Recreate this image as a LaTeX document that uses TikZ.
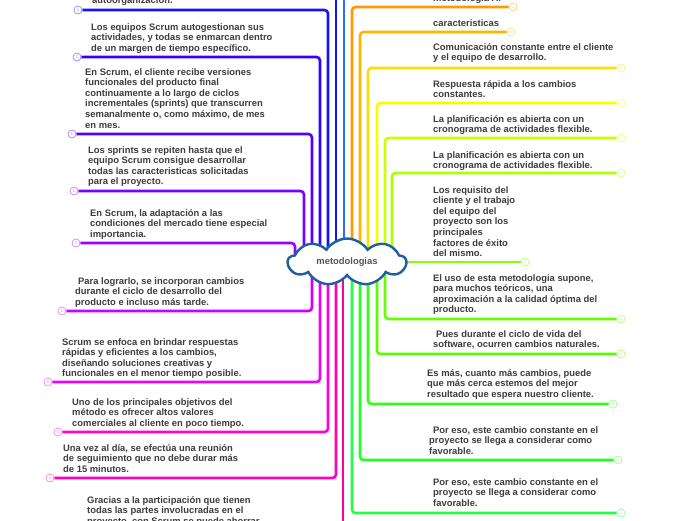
\documentclass[tikz,border=0pt]{standalone}
\usepackage{fontspec}
\setmainfont{Liberation Sans}
\usetikzlibrary{shapes.symbols,backgrounds}
\definecolor{txtgray} {HTML}{3C3C3C}
\definecolor{hubblue} {HTML}{1F5FA0}
\definecolor{hubtext} {HTML}{555555}
\definecolor{cTa}{HTML}{0A14FF}
\definecolor{cTb}{HTML}{2A6AFF}
\definecolor{cLa}{HTML}{1515F0}
\definecolor{cLb}{HTML}{3300FF}
\definecolor{cLc}{HTML}{5500FF}
\definecolor{cLd}{HTML}{7A00FF}
\definecolor{cLe}{HTML}{9900FF}
\definecolor{cLf}{HTML}{CC00FF}
\definecolor{cLg}{HTML}{EE00FF}
\definecolor{cLh}{HTML}{FF00DD}
\definecolor{cLi}{HTML}{FF00BB}
\definecolor{cLj}{HTML}{FF0099}
\definecolor{cRa}{HTML}{FF9900}
\definecolor{cRb}{HTML}{FFB300}
\definecolor{cRc}{HTML}{FFDD00}
\definecolor{cRd}{HTML}{F5FF00}
\definecolor{cRe}{HTML}{CCFF00}
\definecolor{cRf}{HTML}{AAFF00}
\definecolor{cRg}{HTML}{88FF00}
\definecolor{cRh}{HTML}{66FF00}
\definecolor{cRi}{HTML}{55FF00}
\definecolor{cRj}{HTML}{33FF11}
\definecolor{cRk}{HTML}{22FF22}
\definecolor{cRl}{HTML}{22FF44}

\begin{document}
\begin{tikzpicture}[x=1pt, y=-1pt,
  every node/.style={font=\fontsize{9.4}{10.6}\selectfont\bfseries},
  txt/.style={anchor=north west, align=left, inner sep=0pt, text=txtgray},
  num/.style={circle, draw=#1!45, fill=white, text=#1!55, line width=0.8pt,
              inner sep=0pt, minimum size=8pt, font=\fontsize{4}{4}\selectfont},
  br/.style={line width=2.6pt, rounded corners=3.5pt, draw=#1},
  hub/.style={cloud, cloud puffs=9, cloud puff arc=115, cloud ignores aspect,
              minimum width=118pt, minimum height=47pt, draw=hubblue,
              line width=2.4pt, fill=white, text=hubtext, inner sep=0pt},
]
\useasboundingbox (0,0) rectangle (696,520);
\clip (0,0) rectangle (696,520);

\node[hub] (hub) at (347,262) {metodologias};

\node[num=cLa] (l0) at (78,10)  {1};
\node[num=cLb] (l1) at (77,57)  {1};
\node[num=cLc] (l2) at (72,134) {1};
\node[num=cLd] (l3) at (74,191) {1};
\node[num=cLe] (l4) at (76,243) {1};
\node[num=cLf] (l5) at (62,311) {1};
\node[num=cLg] (l6) at (48,382) {6};
\node[num=cLh] (l7) at (58,432) {5};
\node[num=cLi] (l8) at (50,478) {1};

\node[num=cRa] (r0)  at (513,7)   {1};
\node[num=cRb] (r1)  at (511,32)  {4};
\node[num=cRc] (r2)  at (621,68)  {5};
\node[num=cRd] (r3)  at (621,103) {3};
\node[num=cRe] (r4)  at (621,138) {1};
\node[num=cRf] (r5)  at (621,173) {1};
\node[num=cRg] (r6)  at (525,262) {1};
\node[num=cRh] (r7)  at (621,319) {4};
\node[num=cRi] (r8)  at (621,354) {4};
\node[num=cRj] (r9)  at (613,404) {4};
\node[num=cRk] (r10) at (618,460) {1};
\node[num=cRl] (r11) at (621,513) {1};

\coordinate (offa) at (336,-20);
\coordinate (offb) at (344,-20);
\coordinate (offc) at (343,540);

\begin{scope}[on background layer]
\draw[br=cTa] (offa) -- (offa |- hub.center);
\draw[br=cTb] (offb) -- (offb |- hub.center);
\draw[br=cLj] (offc) -- (offc |- hub.center);
\draw[br=cLa] (l0) -| ([xshift=-19]hub.center);
\draw[br=cLb] (l1) -| ([xshift=-27]hub.center);
\draw[br=cLc] (l2) -| ([xshift=-35]hub.center);
\draw[br=cLd] (l3) -| ([xshift=-43]hub.center);
\draw[br=cLe] (l4) -| ([xshift=-52]hub.center);
\draw[br=cLf] (l5) -| ([xshift=-35]hub.center);
\draw[br=cLg] (l6) -| ([xshift=-27]hub.center);
\draw[br=cLh] (l7) -| ([xshift=-19]hub.center);
\draw[br=cLi] (l8) -| ([xshift=-11]hub.center);
\draw[br=cRa] (r0) -| ([xshift=5]hub.center);
\draw[br=cRb] (r1) -| ([xshift=13]hub.center);
\draw[br=cRc] (r2) -| ([xshift=21]hub.center);
\draw[br=cRd] (r3) -| ([xshift=30]hub.center);
\draw[br=cRe] (r4) -| ([xshift=38]hub.center);
\draw[br=cRf] (r5) -| ([xshift=45]hub.center);
\draw[br=cRg] (r6) -- (hub.center);
\draw[br=cRh] (r7) -| ([xshift=38]hub.center);
\draw[br=cRi] (r8) -| ([xshift=30]hub.center);
\draw[br=cRj] (r9) -| ([xshift=21]hub.center);
\draw[br=cRk] (r10) -| ([xshift=13]hub.center);
\draw[br=cRl] (r11) -| ([xshift=5]hub.center);
\end{scope}

\node[txt] (t0) at (92,-4) {autoorganización.};
\node[txt] (t1) at (91,23) {Los equipos Scrum autogestionan sus\\actividades, y todas se enmarcan dentro\\de un margen de tiempo específico.};
\node[txt] (t2) at (85,68) {En Scrum, el cliente recibe versiones\\funcionales del producto final\\continuamente a lo largo de ciclos\\incrementales (sprints) que transcurren\\semanalmente o, como máximo, de mes\\en mes.};
\node[txt] (t3) at (88,146) {Los sprints se repiten hasta que el\\equipo Scrum consigue desarrollar\\todas las caracteristicas solicitadas\\para el proyecto.};
\node[txt] (t4) at (90,209) {En Scrum, la adaptación a las\\condiciones del mercado tiene especial\\importancia.};
\node[txt] (t5) at (75,277) {\hspace*{3pt}Para lograrlo, se incorporan cambios\\durante el ciclo de desarrollo del\\producto e incluso más tarde.};
\node[txt] (t6) at (62,338) {Scrum se enfoca en brindar respuestas\\rápidas y eficientes a los cambios,\\diseñando soluciones creativas y\\funcionales en el menor tiempo posible.};
\node[txt] (t7) at (72,398) {Uno de los principales objetivos del\\método es ofrecer altos valores\\comerciales al cliente en poco tiempo.};
\node[txt] (t8) at (63,444) {Una vez al día, se efectúa una reunión\\de seguimiento que no debe durar más\\de 15 minutos.};
\node[txt] (t9) at (87,496) {Gracias a la participación que tienen\\todas las partes involucradas en el\\proyecto, con Scrum se puede ahorrar};

\node[txt] (s0)  at (433,-6)  {metodologia A.};
\node[txt] (s1)  at (433,19)  {caracteristicas};
\node[txt] (s2)  at (433,43)  {Comunicación constante entre el cliente\\y el equipo de desarrollo.};
\node[txt] (s3)  at (433,80)  {Respuesta rápida a los cambios\\constantes.};
\node[txt] (s4)  at (433,115) {La planificación es abierta con un\\cronograma de actividades flexible.};
\node[txt] (s5)  at (433,151) {La planificación es abierta con un\\cronograma de actividades flexible.};
\node[txt] (s6)  at (433,186) {Los requisito del\\cliente y el trabajo\\del equipo del\\proyecto son los\\principales\\factores de éxito\\del mismo.};
\node[txt] (s7)  at (433,274) {El uso de esta metodologia supone,\\para muchos teóricos, una\\aproximación a la calidad óptima del\\producto.};
\node[txt] (s8)  at (433,330) {\hspace*{3pt}Pues durante el ciclo de vida del\\software, ocurren cambios naturales.};
\node[txt] (s9)  at (427,369) {Es más, cuanto más cambios, puede\\que más cerca estemos del mejor\\resultado que espera nuestro cliente.};
\node[txt] (s10) at (429,426) {\hspace*{4pt}Por eso, este cambio constante en el\\proyecto se llega a considerar como\\favorable.};
\node[txt] (s11) at (433,478) {Por eso, este cambio constante en el\\proyecto se llega a considerar como\\favorable.};
\end{tikzpicture}
\end{document}
